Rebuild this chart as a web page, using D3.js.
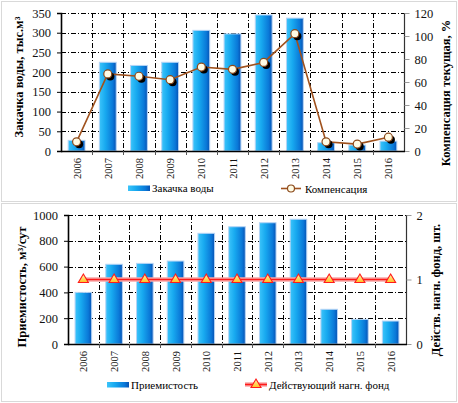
<!DOCTYPE html>
<html>
<head>
<meta charset="utf-8">
<script src="https://d3js.org/d3.v7.min.js"></script>
<style>
  body { margin: 0; background: #fff; }
  svg text { font-family: "Liberation Serif", "Times New Roman", Tinos, "DejaVu Serif", serif; }
</style>
</head>
<body>
<div id="chart"></div>
<script>
// data
var years = ["2006", "2007", "2008", "2009", "2010", "2011", "2012", "2013", "2014", "2015", "2016"];
var injection = [27, 225, 217, 225, 306, 297, 345, 337, 21, 15, 25];        // тыс.м3
var compensation = [8, 67, 65, 62, 73, 71, 77, 102, 8, 6, 12];              // %
var injectivity = [400, 618, 625, 643, 858, 909, 940, 967, 269, 191, 178];   // м3/сут
var wellStock = [1, 1, 1, 1, 1, 1, 1, 1, 1, 1, 1];                          // шт.
var topLeftTicks = [0, 50, 100, 150, 200, 250, 300, 350];
var topRightTicks = [0, 20, 40, 60, 80, 100, 120];
var botLeftTicks = [0, 200, 400, 600, 800, 1000];
var botRightTicks = [0, 1, 2];

var W = 458, H = 403;
var FONT = "'Liberation Serif', 'Times New Roman', Tinos, 'DejaVu Serif', serif";
var svg = d3.select("#chart").append("svg")
    .attr("width", W).attr("height", H)
    .attr("font-family", FONT);

var defs = svg.append("defs");
var grad = defs.append("linearGradient").attr("id", "barGrad")
    .attr("x1", "0%").attr("x2", "100%").attr("y1", "0%").attr("y2", "0%");
grad.append("stop").attr("offset", "0%").attr("stop-color", "#3cc4fa");
grad.append("stop").attr("offset", "35%").attr("stop-color", "#18aaf0");
grad.append("stop").attr("offset", "80%").attr("stop-color", "#0a78d8");
grad.append("stop").attr("offset", "100%").attr("stop-color", "#0652b4");
var tri = defs.append("linearGradient").attr("id", "triGrad")
    .attr("x1", "0%").attr("x2", "0%").attr("y1", "0%").attr("y2", "100%");
tri.append("stop").attr("offset", "0%").attr("stop-color", "#fff8b0");
tri.append("stop").attr("offset", "100%").attr("stop-color", "#ffc020");

// frames
svg.append("rect").attr("x", 1.5).attr("y", 1.5).attr("width", 455).attr("height", 200)
    .attr("fill", "none").attr("stroke", "#d9d9d9");
svg.append("rect").attr("x", 1.5).attr("y", 203.5).attr("width", 455).attr("height", 198)
    .attr("fill", "none").attr("stroke", "#d9d9d9");

var DASH = "5,2,1,2";

function drawPanel(cfg) {
    var g = svg.append("g");
    var x = d3.scaleBand().domain(years).range([cfg.left, cfg.right]).paddingInner(0.46).paddingOuter(0.23);
    var xb = d3.scaleBand().domain(years).range([cfg.left, cfg.right]);
    var y = d3.scaleLinear().domain([0, cfg.leftMax]).range([cfg.bottom, cfg.top]);
    var y2 = d3.scaleLinear().domain([0, cfg.rightMax]).range([cfg.bottom, cfg.top]);

    // horizontal grid
    g.selectAll(".hg").data(cfg.leftTicks.slice(1)).enter().append("line")
        .attr("x1", cfg.left).attr("x2", cfg.right)
        .attr("y1", function(d) { return Math.round(y(d)) + 0.5; })
        .attr("y2", function(d) { return Math.round(y(d)) + 0.5; })
        .attr("stroke", "#000").attr("stroke-dasharray", DASH);
    // vertical grid at category boundaries
    g.selectAll(".vg").data(years.slice(1)).enter().append("line")
        .attr("x1", function(d) { return Math.round(xb(d)) + 0.5; })
        .attr("x2", function(d) { return Math.round(xb(d)) + 0.5; })
        .attr("y1", cfg.top).attr("y2", cfg.bottom)
        .attr("stroke", "#000").attr("stroke-dasharray", DASH);

    // bars
    g.selectAll(".bar").data(cfg.bars).enter().append("rect")
        .attr("x", function(d, i) { return x(years[i]); })
        .attr("y", function(d) { return y(d); })
        .attr("width", x.bandwidth())
        .attr("height", function(d) { return cfg.bottom - y(d); })
        .attr("fill", "url(#barGrad)")
        .attr("stroke", "#b4d4f6").attr("stroke-width", 1);

    // right axis line
    g.append("line").attr("x1", cfg.right + 0.5).attr("x2", cfg.right + 0.5)
        .attr("y1", cfg.top).attr("y2", cfg.bottom).attr("stroke", "#333").attr("stroke-width", 1.2);

    // left axis
    var la = g.append("g").attr("transform", "translate(" + cfg.left + ",0)")
        .call(d3.axisLeft(y).tickValues(cfg.leftTicks).tickSize(4).tickPadding(6).tickFormat(d3.format("d")));
    la.attr("font-family", FONT);
    la.select(".domain").attr("stroke", "#000").attr("stroke-width", 1.6);
    la.selectAll("line").attr("stroke", "#000");
    la.selectAll("text").attr("font-size", 12.5).attr("fill", "#111");

    // right axis
    var ra = g.append("g").attr("transform", "translate(" + (cfg.right + 0.5) + ",0)")
        .call(d3.axisRight(y2).tickValues(cfg.rightTicks).tickSize(5).tickPadding(5).tickFormat(d3.format("d")));
    ra.attr("font-family", FONT);
    ra.select(".domain").remove();
    ra.selectAll("line").attr("stroke", "#999");
    ra.selectAll("text").attr("font-size", 12.5).attr("fill", "#111");

    // bottom axis: ticks at boundaries
    g.append("line").attr("x1", cfg.left).attr("x2", cfg.right + 1)
        .attr("y1", cfg.bottom + 0.5).attr("y2", cfg.bottom + 0.5)
        .attr("stroke", "#000").attr("stroke-width", 1.6);
    g.selectAll(".xt").data(years.slice(1)).enter().append("line")
        .attr("x1", function(d) { return Math.round(xb(d)) + 0.5; })
        .attr("x2", function(d) { return Math.round(xb(d)) + 0.5; })
        .attr("y1", cfg.bottom).attr("y2", cfg.bottom + 4)
        .attr("stroke", "#555");
    g.selectAll(".xl").data(years).enter().append("text")
        .attr("transform", function(d) {
            return "translate(" + (xb(d) + xb.bandwidth() / 2 + 4) + "," + (cfg.bottom + 7) + ") rotate(-90)";
        })
        .attr("text-anchor", "end")
        .attr("font-size", 10.5).attr("fill", "#111")
        .text(function(d) { return d; });

    // axis titles
    g.append("text")
        .attr("transform", "translate(" + cfg.lTitleX + "," + cfg.lTitleY + ") rotate(-90)")
        .attr("text-anchor", "middle").attr("font-weight", "bold").attr("font-size", 12.5)
        .text(cfg.lTitle);
    g.append("text")
        .attr("transform", "translate(" + cfg.rTitleX + "," + cfg.rTitleY + ") rotate(-90)")
        .attr("text-anchor", "middle").attr("font-weight", "bold").attr("font-size", 12.5)
        .text(cfg.rTitle);

    return { x: xb, y2: y2, g: g };
}

// top panel
var p1 = drawPanel({
    left: 61, right: 404, top: 13, bottom: 151,
    leftMax: 350, rightMax: 120,
    leftTicks: topLeftTicks, rightTicks: topRightTicks,
    bars: injection,
    lTitle: "Закачка воды, тыс.м³", lTitleX: 23, lTitleY: 77,
    rTitle: "Компенсация текущая, %", rTitleX: 450, rTitleY: 93
});
var cx1 = function(i) { return p1.x(years[i]) + p1.x.bandwidth() / 2; };
var line1 = d3.line().x(function(d, i) { return cx1(i); }).y(function(d) { return p1.y2(d); });
p1.g.append("path").datum(compensation).attr("d", line1)
    .attr("fill", "none").attr("stroke", "#a0521e").attr("stroke-width", 1.6);
p1.g.selectAll(".sh").data(compensation).enter().append("circle")
    .attr("cx", function(d, i) { return cx1(i) + 2.5; })
    .attr("cy", function(d) { return p1.y2(d) + 2.5; })
    .attr("r", 4).attr("fill", "#000");
p1.g.selectAll(".pt").data(compensation).enter().append("circle")
    .attr("cx", function(d, i) { return cx1(i); })
    .attr("cy", function(d) { return p1.y2(d); })
    .attr("r", 4).attr("fill", "#fffbe4").attr("stroke", "#8b4a1c").attr("stroke-width", 1.2);

// bottom panel
var p2 = drawPanel({
    left: 68, right: 406, top: 215, bottom: 344,
    leftMax: 1000, rightMax: 2,
    leftTicks: botLeftTicks, rightTicks: botRightTicks,
    bars: injectivity,
    lTitle: "Приемистость, м³/сут", lTitleX: 26, lTitleY: 287,
    rTitle: "Действ. нагн. фонд, шт.", rTitleX: 440, rTitleY: 290
});
var cx2 = function(i) { return p2.x(years[i]) + p2.x.bandwidth() / 2; };
var line2 = d3.line().x(function(d, i) { return cx2(i); }).y(function(d) { return p2.y2(d); });
p2.g.append("path").datum(wellStock).attr("d", line2)
    .attr("fill", "none").attr("stroke", "#f7a8a8").attr("stroke-width", 4.5);
p2.g.append("path").datum(wellStock).attr("d", line2)
    .attr("fill", "none").attr("stroke", "#ff1a1a").attr("stroke-width", 1.6);
var triPath = "M0,-5 L5,3.5 L-5,3.5 Z";
p2.g.selectAll(".tr").data(wellStock).enter().append("path")
    .attr("d", triPath)
    .attr("transform", function(d, i) { return "translate(" + cx2(i) + "," + (p2.y2(d) - 0.5) + ")"; })
    .attr("fill", "url(#triGrad)").attr("stroke", "#ff1a1a").attr("stroke-width", 1.1);

// legends
function legendBar(x0, yc, label) {
    svg.append("rect").attr("x", x0).attr("y", yc - 2.5).attr("width", 22).attr("height", 5.5)
        .attr("fill", "url(#barGrad)");
    svg.append("text").attr("x", x0 + 24).attr("y", yc + 4).attr("font-size", 11).text(label);
}
legendBar(128, 188, "Закачка воды");
legendBar(107, 384.5, "Приемистость");

svg.append("line").attr("x1", 281).attr("x2", 301).attr("y1", 188.5).attr("y2", 188.5)
    .attr("stroke", "#a0521e").attr("stroke-width", 1.6);
svg.append("circle").attr("cx", 291).attr("cy", 188.5).attr("r", 3.5)
    .attr("fill", "#fffbe4").attr("stroke", "#8b4a1c").attr("stroke-width", 1.2);
svg.append("text").attr("x", 305).attr("y", 192.5).attr("font-size", 11).text("Компенсация");

svg.append("line").attr("x1", 245).attr("x2", 267).attr("y1", 384.5).attr("y2", 384.5)
    .attr("stroke", "#f7a8a8").attr("stroke-width", 4.5);
svg.append("line").attr("x1", 245).attr("x2", 267).attr("y1", 384.5).attr("y2", 384.5)
    .attr("stroke", "#ff1a1a").attr("stroke-width", 1.6);
svg.append("path").attr("d", triPath).attr("transform", "translate(256,384)")
    .attr("fill", "url(#triGrad)").attr("stroke", "#ff1a1a").attr("stroke-width", 1.1);
svg.append("text").attr("x", 269).attr("y", 388.5).attr("font-size", 11).text("Действующий нагн. фонд");
</script>
</body>
</html>
